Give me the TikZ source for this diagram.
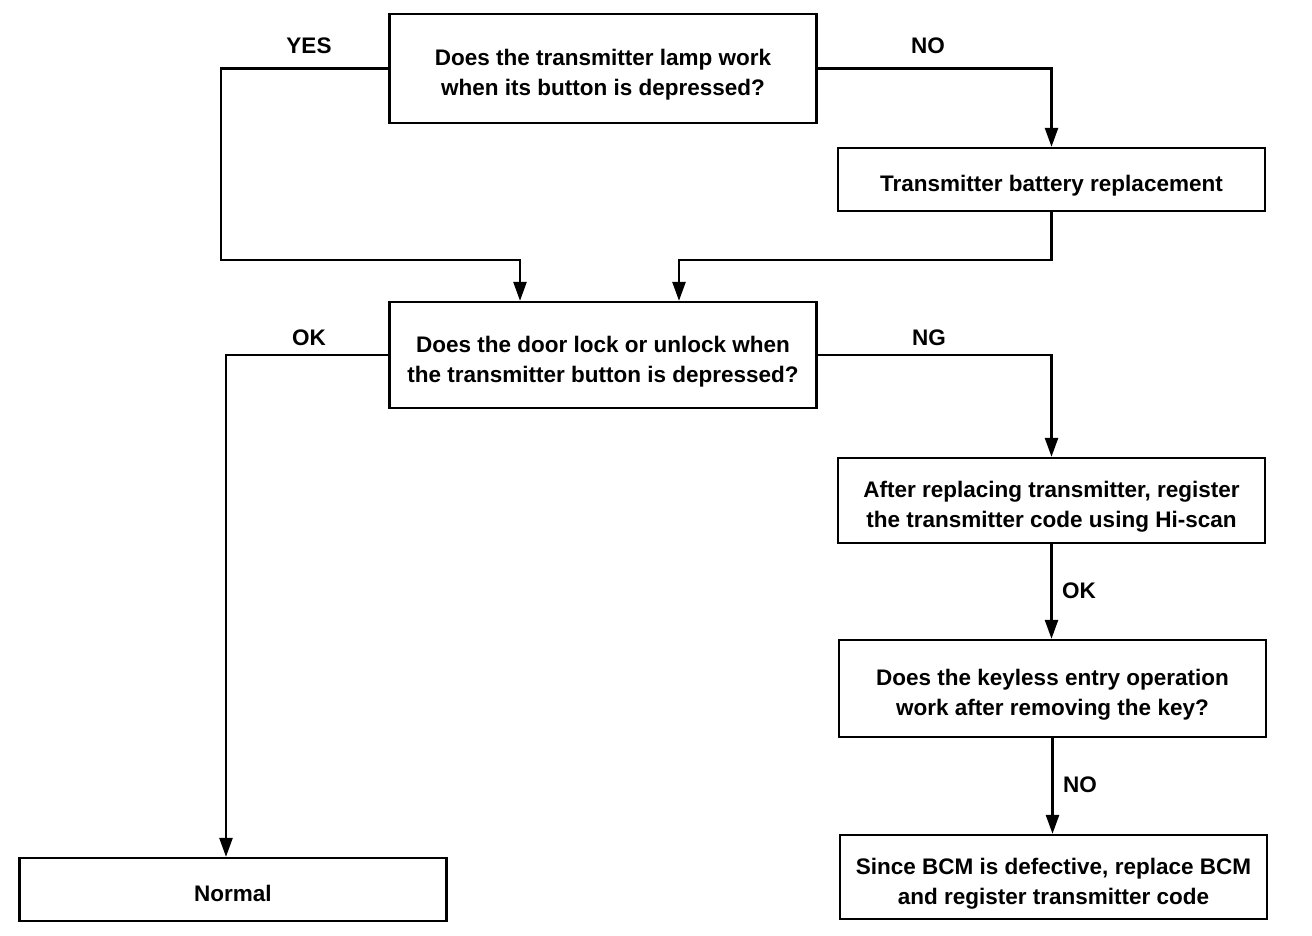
\documentclass[tikz,border=0pt]{standalone}
\usepackage{fontspec}
\setmainfont{Liberation Sans}
\usetikzlibrary{arrows.meta}

\newcommand{\boxtext}[1]{\raisebox{-6pt}[\height][\depth]{\begin{tabular}{@{}c@{}}#1\end{tabular}}}

\tikzset{
  stepbox/.style={draw,line width=2.3pt,rectangle,inner sep=0pt,align=center,
    minimum width=427pt,font=\fontsize{22.5}{30}\selectfont\bfseries},
  answer/.style={font=\fontsize{22.5}{26}\selectfont\bfseries},
  arr/.style={line width=2.5pt,-{Triangle[length=19pt,width=13pt]}}
}

\begin{document}
\begin{tikzpicture}[x=1pt,y=1pt,yscale=-1,xscale=1]
\useasboundingbox (0,0) rectangle (1312,936);

% Boxes
\node [stepbox,minimum height=109pt] (lamp) at (603,68.5) {\boxtext{Does the transmitter lamp work\\when its button is depressed?}};
\node [stepbox,minimum height=63pt] (battery) at (1051.5,179.5) {\boxtext{Transmitter battery replacement}};
\node [stepbox,minimum height=106pt] (door) at (603,355) {\boxtext{Does the door lock or unlock when\\the transmitter button is depressed?}};
\node [stepbox,minimum height=85pt] (register) at (1051.5,500.5) {\boxtext{After replacing transmitter, register\\the transmitter code using Hi-scan}};
\node [stepbox,minimum height=97pt] (keyless) at (1052.5,688.5) {\boxtext{Does the keyless entry operation\\work after removing the key?}};
\node [stepbox,minimum height=84pt] (bcm) at (1053.5,877) {\boxtext{Since BCM is defective, replace BCM\\and register transmitter code}};
\node [stepbox,minimum height=63pt] (normal) at (233,889.5) {\boxtext{Normal}};

% Corner points
\coordinate (yes1) at (221,68.5);
\coordinate (yes2) at (520,260);
\coordinate (bat1) at (679,260);
\coordinate (ok1) at (226,355);

% Connectors
\draw [arr] (lamp.west) -- (yes1) |- (yes2) -- (yes2 |- door.north);
\draw [arr] (battery.south) |- (bat1) -- (bat1 |- door.north);
\draw [arr] (lamp.east) -| (battery.north);
\draw [arr] (door.west) -- (ok1) -- (ok1 |- normal.north);
\draw [arr] (door.east) -| (register.north);
\draw [arr] (register.south) -- (register.south |- keyless.north);
\draw [arr] (keyless.south) -- (keyless.south |- bcm.north);

% Answer labels
\node [answer] (yes) at (309,46) {YES};
\node [answer] (no1) at (928,46) {NO};
\node [answer] (ok2) at (309,338) {OK};
\node [answer] (ng) at (929,338) {NG};
\node [answer] (ok3) at (1079,591) {OK};
\node [answer] (no2) at (1080,785) {NO};

\end{tikzpicture}
\end{document}
